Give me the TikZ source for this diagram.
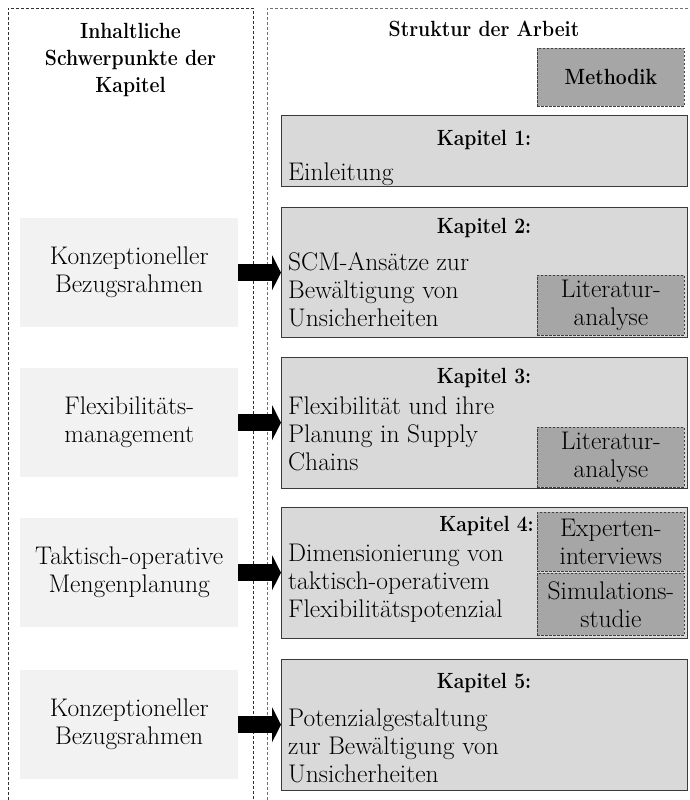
\documentclass[tikz,border=0pt]{standalone}
\usepackage{fontspec}
\newfontfamily\headfont{Latin Modern Roman}[FakeStretch=0.88]
\usetikzlibrary{arrows.meta}
\definecolor{kapfill}{HTML}{D9D9D9}
\definecolor{kapline}{HTML}{3A3A3A}
\definecolor{methfill}{HTML}{A6A6A6}
\definecolor{methline}{HTML}{404040}
\definecolor{leftfill}{HTML}{F2F2F2}
\definecolor{frameA}{HTML}{303030}
\definecolor{frameB}{HTML}{707070}
\begin{document}
\begin{tikzpicture}[x=1pt,y=-1pt,
  every node/.style={inner sep=0pt, font=\fontsize{25.5}{28}\selectfont},
  boldtxt/.style={font=\headfont\fontsize{22}{27}\selectfont\bfseries},
  kapbox/.style={draw=kapline, fill=kapfill, line width=1.1pt, minimum width=406pt, anchor=north west},
  methbox/.style={draw=methline, fill=methfill, line width=0.8pt, dash pattern=on 2.5pt off 1.5pt, minimum width=147pt, anchor=north west, align=center},
  leftbox/.style={fill=leftfill, minimum width=218pt, minimum height=109pt, anchor=north west, align=center},
  bodytxt/.style={anchor=north west, align=left},
  frameline/.style={line width=0.8pt, dash pattern=on 3pt off 2pt},
  bigarrow/.style={line width=17pt, -{Triangle[length=9pt,width=35pt]}, draw=black}
]
\useasboundingbox (0,0) rectangle (690,800);
% frames
\draw[frameline, draw=frameA] (8,800) -- (8,8) -- (253,8) -- (253,800);
\draw[frameline, draw=frameB] (267,800) -- (267,8) -- (690,8);
% titles
\node[boldtxt, anchor=north, align=center] (t1) at (130.5,19) {\strut Inhaltliche\\Schwerpunkte der\\Kapitel};
\node[boldtxt, anchor=base] (t2) at (484,37) {Struktur der Arbeit};
% methodik
\node[methbox, minimum height=58pt, boldtxt] (meth) at (537,48) {Methodik};
% kapitel boxes
\node[kapbox, minimum height=71pt] (k1) at (281,115) {};
\node[kapbox, minimum height=130pt] (k2) at (281,207) {};
\node[kapbox, minimum height=131pt] (k3) at (281,357) {};
\node[kapbox, minimum height=131pt] (k4) at (281,507) {};
\node[kapbox, minimum height=131pt] (k5) at (281,659) {};
% headings
\node[boldtxt, anchor=base] (k1h) at (484,145) {Kapitel 1:};
\node[boldtxt, anchor=base] (k2h) at (484,233) {Kapitel 2:};
\node[boldtxt, anchor=base] (k3h) at (484,383) {Kapitel 3:};
\node[boldtxt, anchor=base east] (k4h) at (534,531) {Kapitel 4:};
\node[boldtxt, anchor=base] (k5h) at (484,688) {Kapitel 5:};
% body texts
\node[bodytxt] (k1t) at (288,161) {\strut Einleitung};
\node[bodytxt] (k2t) at (288,251) {\strut SCM-Ansätze zur\\Bewältigung von\\Unsicherheiten};
\node[bodytxt] (k3t) at (288,395) {\strut Flexibilität und ihre\\Planung in Supply\\Chains};
\node[bodytxt] (k4t) at (288,542) {\strut Dimensionierung von\\taktisch-operativem\\Flexibilitätspotenzial};
\node[bodytxt] (k5t) at (288,707) {\strut Potenzialgestaltung\\zur Bewältigung von\\Unsicherheiten};
% method boxes
\node[methbox, minimum height=60pt] (lit2) at (537,275) {Literatur-\\analyse};
\node[methbox, minimum height=60pt] (lit3) at (537,427) {Literatur-\\analyse};
\node[methbox, minimum height=59pt] (exp4) at (537,512) {Experten-\\interviews};
\node[methbox, minimum height=62pt] (sim4) at (537,573) {Simulations-\\studie};
% left boxes
\node[leftbox] (l1) at (20,218) {Konzeptioneller\\Bezugsrahmen};
\node[leftbox] (l2) at (20,368) {Flexibilitäts-\\management};
\node[leftbox] (l3) at (20,518) {Taktisch-operative\\Mengenplanung};
\node[leftbox] (l4) at (20,670) {Konzeptioneller\\Bezugsrahmen};
% arrows
\draw[bigarrow] (l1.east) -- (k2.west |- l1.east);
\draw[bigarrow] (l2.east) -- (k3.west |- l2.east);
\draw[bigarrow] (l3.east) -- (k4.west |- l3.east);
\draw[bigarrow] (l4.east) -- (k5.west |- l4.east);
\end{tikzpicture}
\end{document}
